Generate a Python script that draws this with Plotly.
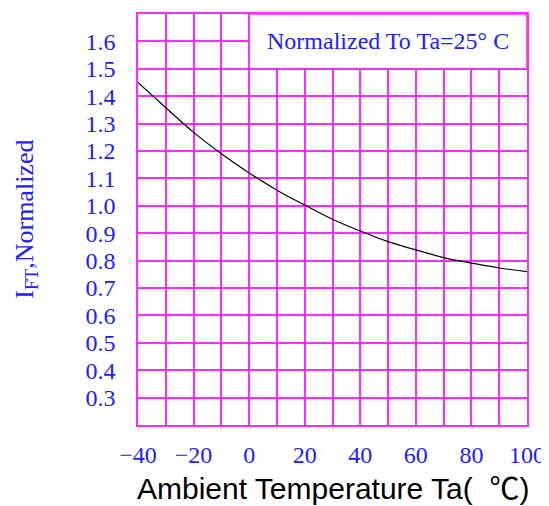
import plotly.graph_objects as go

temps = [-40, -30, -20, -10, 0, 10, 20, 30, 40, 50, 60, 70, 80, 90, 100]
ift_norm = [1.450, 1.358, 1.268, 1.190, 1.120, 1.057, 1.003, 0.951, 0.908, 0.869, 0.839, 0.811, 0.791, 0.773, 0.760]

y_tickvals = [0.3, 0.4, 0.5, 0.6, 0.7, 0.8, 0.9, 1.0, 1.1, 1.2, 1.3, 1.4, 1.5, 1.6]
y_ticktext = ["0.3", "0.4", "0.5", "0.6", "0.7", "0.8", "0.9", "1.0", "1.1", "1.2", "1.3", "1.4", "1.5", "1.6"]
x_tickvals = [-40, -20, 0, 20, 40, 60, 80, 100]
x_ticktext = ["\u221240", "\u221220", "0", "20", "40", "60", "80", "100"]

GRID = "#ff2bff"
BLUE = "#2020ff"
SERIF = "Liberation Serif"

fig = go.Figure()
fig.add_trace(go.Scatter(x=temps, y=ift_norm, mode="lines",
                         line=dict(color="black", width=1.2, shape="spline"),
                         showlegend=False, hoverinfo="skip"))

fig.update_layout(
    width=541, height=498,
    margin=dict(l=130, r=18, t=4, b=81),
    paper_bgcolor="white", plot_bgcolor="white",
    xaxis=dict(range=[-40, 100], tickvals=x_tickvals, ticktext=x_ticktext,
               showgrid=True, gridcolor=GRID, gridwidth=1.5,
               minor=dict(tickmode="linear", tick0=-40, dtick=10, showgrid=True,
                          gridcolor=GRID, gridwidth=1.5),
               showline=True, linecolor=GRID, linewidth=1.5, mirror=True,
               zeroline=False, ticks="",
               tickfont=dict(family=SERIF, size=24, color=BLUE),
               ticklabelstandoff=7),
    yaxis=dict(range=[0.2, 1.7], tickvals=y_tickvals, ticktext=y_ticktext,
               showgrid=True, gridcolor=GRID, gridwidth=1.5,
               showline=True, linecolor=GRID, linewidth=1.5, mirror=True,
               zeroline=False, ticks="",
               tickfont=dict(family=SERIF, size=24, color=BLUE),
               ticklabelstandoff=16),
)

fig.add_shape(type="rect", xref="x", yref="y", x0=0, x1=100, y0=1.5, y1=1.7,
              fillcolor="white", line=dict(color=GRID, width=1.5), layer="above")

fig.add_annotation(x=50, y=1.6, xref="x", yref="y", text="Normalized To Ta=25\u00b0 C",
                   showarrow=False, font=dict(family=SERIF, size=24, color=BLUE),
                   xanchor="center", yanchor="middle")

fig.add_annotation(x=-0.29, y=0.5, xref="paper", yref="paper",
                   text="I<sub>FT</sub>,Normalized", textangle=-90,
                   showarrow=False, font=dict(family=SERIF, size=26, color=BLUE),
                   xanchor="center", yanchor="middle")

fig.add_annotation(x=0.5, y=-0.148, xref="paper", yref="paper",
                   text="Ambient Temperature Ta(\u00a0\u00a0<span style=\"font-family:'Noto Sans CJK SC'\">\u2103</span>)",
                   showarrow=False, font=dict(family="Liberation Sans", size=30, color="black"),
                   xanchor="center", yanchor="middle")

fig.write_html("out.html")
